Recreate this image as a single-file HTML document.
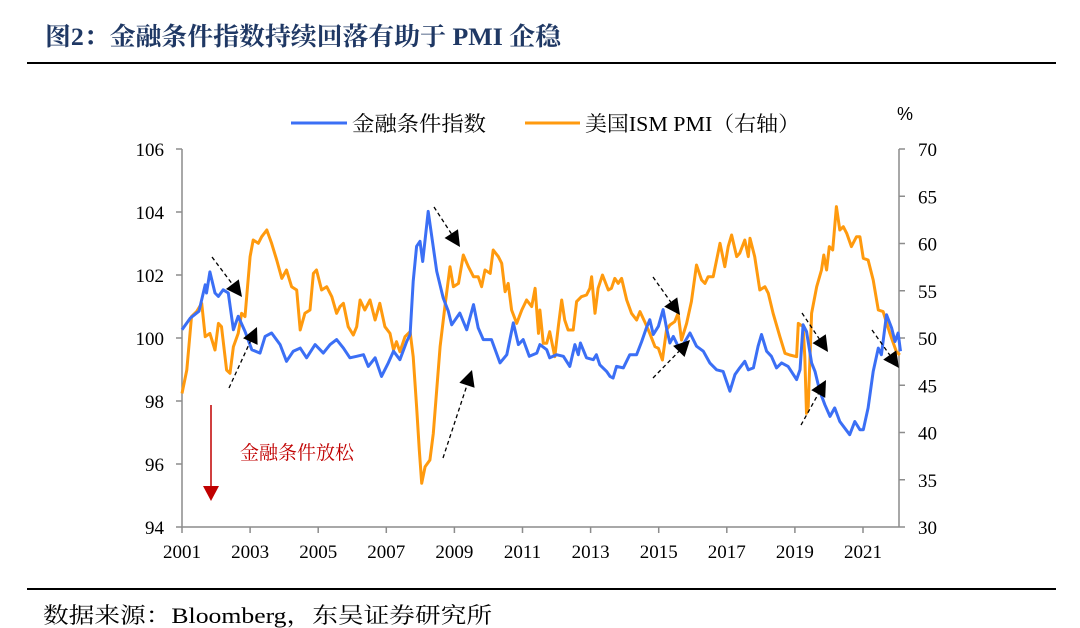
<!DOCTYPE html>
<html><head><meta charset="utf-8">
<style>
html,body{margin:0;padding:0;background:#fff;}
body{width:1080px;height:628px;overflow:hidden;position:relative;font-family:"Liberation Serif","Noto Serif CJK SC",serif;}
svg{position:absolute;left:0;top:0;}
</style></head>
<body>
<svg id="chart" width="1080" height="628" viewBox="0 0 1080 628" xmlns="http://www.w3.org/2000/svg">
<text x="45" y="45" font-size="25" font-weight="bold" fill="#1f3864" textLength="516" lengthAdjust="spacingAndGlyphs" font-family="Liberation Serif, Noto Serif CJK SC, serif">图2：金融条件指数持续回落有助于 PMI 企稳</text>
<line x1="27" y1="63" x2="1056" y2="63" stroke="#000" stroke-width="2"/>
<line x1="291" y1="123" x2="347" y2="123" stroke="#3b6ff5" stroke-width="3"/>
<text x="352" y="131" font-size="21" fill="#000" textLength="134" lengthAdjust="spacingAndGlyphs" font-family="Liberation Serif, Noto Serif CJK SC, serif">金融条件指数</text>
<line x1="525" y1="123" x2="580" y2="123" stroke="#ff9a0e" stroke-width="3"/>
<text x="585" y="131" font-size="21" fill="#000" textLength="215" lengthAdjust="spacingAndGlyphs" font-family="Liberation Serif, Noto Serif CJK SC, serif">美国ISM PMI（右轴）</text>
<text x="897" y="120" font-size="18" fill="#000" font-family="Liberation Sans, sans-serif">%</text>
<g id="axes"></g>
<g id="series"></g>
<g id="annot"></g>
<line x1="211" y1="405" x2="211" y2="488" stroke="#c00000" stroke-width="1.5"/>
<polygon points="203,486 219,486 211,501" fill="#c00000"/>
<text x="240" y="459" font-size="19" fill="#c00000" font-family="Liberation Serif, Noto Serif CJK SC, serif">金融条件放松</text>
<line x1="27" y1="589" x2="1056" y2="589" stroke="#000" stroke-width="2"/>
<text x="43" y="623" font-size="22" fill="#000" textLength="449" lengthAdjust="spacingAndGlyphs" font-family="Liberation Serif, Noto Serif CJK SC, serif">数据来源：Bloomberg，东吴证券研究所</text>
</svg>
<script>
const xTickYears = [2001,2003,2005,2007,2009,2011,2013,2015,2017,2019,2021];
const leftTicks = [94,96,98,100,102,104,106];
const rightTicks = [30,35,40,45,50,55,60,65,70];
const fciDates = [2001.00,2001.24,2001.50,2001.68,2001.72,2001.82,2001.97,2002.07,2002.21,2002.36,2002.51,2002.65,2002.85,2003.05,2003.29,2003.44,2003.63,2003.88,2004.07,2004.27,2004.47,2004.66,2004.91,2005.15,2005.35,2005.54,2005.74,2005.93,2006.13,2006.33,2006.47,2006.67,2006.86,2007.06,2007.21,2007.40,2007.60,2007.70,2007.79,2007.89,2007.99,2008.07,2008.23,2008.48,2008.67,2008.82,2008.92,2009.16,2009.36,2009.56,2009.70,2009.85,2010.09,2010.34,2010.54,2010.73,2010.88,2011.02,2011.20,2011.42,2011.51,2011.71,2011.80,2012.00,2012.20,2012.39,2012.54,2012.64,2012.70,2012.88,2013.08,2013.17,2013.27,2013.47,2013.57,2013.66,2013.76,2013.96,2014.15,2014.35,2014.50,2014.64,2014.74,2014.84,2014.99,2015.13,2015.23,2015.33,2015.43,2015.62,2015.77,2015.92,2016.11,2016.31,2016.50,2016.70,2016.89,2017.09,2017.24,2017.38,2017.53,2017.63,2017.78,2017.92,2018.02,2018.17,2018.31,2018.46,2018.61,2018.80,2019.05,2019.15,2019.24,2019.34,2019.49,2019.59,2019.73,2019.88,2020.03,2020.17,2020.32,2020.61,2020.76,2020.91,2021.01,2021.15,2021.30,2021.45,2021.54,2021.69,2021.84,2021.94,2022.03,2022.10];
const fciValues = [100.26,100.63,100.85,101.69,101.43,102.10,101.43,101.32,101.53,101.43,100.26,100.69,100.21,99.63,99.52,100.05,100.16,99.79,99.26,99.58,99.68,99.37,99.79,99.52,99.79,99.95,99.68,99.37,99.42,99.47,99.10,99.37,98.78,99.21,99.58,99.31,99.89,100.11,101.80,102.91,103.07,102.43,104.02,102.12,101.27,100.85,100.42,100.79,100.26,101.06,100.32,99.95,99.95,99.21,99.47,100.48,99.79,99.95,99.42,99.52,99.79,99.63,99.37,99.47,99.42,99.10,99.79,99.47,99.84,99.37,99.31,99.47,99.15,98.94,98.78,98.73,99.10,99.05,99.47,99.47,99.89,100.32,100.58,100.11,100.37,100.90,100.32,99.84,100.05,99.63,99.89,100.16,99.74,99.58,99.21,98.99,98.94,98.31,98.84,99.05,99.26,98.99,99.05,99.74,100.11,99.58,99.42,99.05,99.21,99.10,98.68,98.99,100.42,100.21,99.21,98.94,98.31,97.88,97.51,97.78,97.35,96.93,97.35,97.09,97.09,97.78,98.94,99.68,99.47,100.74,100.32,99.89,100.16,99.58];
const pmiDates = [2001.00,2001.14,2001.28,2001.43,2001.58,2001.68,2001.82,2001.97,2002.07,2002.16,2002.31,2002.41,2002.51,2002.65,2002.75,2002.85,2003.00,2003.09,2003.24,2003.34,2003.49,2003.63,2003.78,2003.93,2004.07,2004.22,2004.37,2004.47,2004.61,2004.76,2004.86,2004.95,2005.10,2005.25,2005.40,2005.54,2005.64,2005.74,2005.88,2006.03,2006.13,2006.23,2006.37,2006.52,2006.67,2006.81,2006.96,2007.11,2007.21,2007.30,2007.40,2007.55,2007.70,2007.79,2007.89,2007.97,2008.04,2008.14,2008.28,2008.38,2008.48,2008.58,2008.72,2008.87,2008.97,2009.12,2009.26,2009.41,2009.56,2009.70,2009.80,2009.90,2010.05,2010.14,2010.29,2010.39,2010.49,2010.58,2010.68,2010.83,2010.98,2011.12,2011.27,2011.37,2011.47,2011.51,2011.61,2011.71,2011.80,2011.95,2012.05,2012.15,2012.24,2012.34,2012.49,2012.59,2012.73,2012.88,2012.98,2013.03,2013.13,2013.22,2013.35,2013.52,2013.61,2013.71,2013.81,2013.91,2014.06,2014.20,2014.35,2014.45,2014.59,2014.74,2014.89,2014.99,2015.11,2015.23,2015.33,2015.47,2015.57,2015.67,2015.82,2015.96,2016.11,2016.26,2016.36,2016.45,2016.60,2016.80,2016.94,2017.04,2017.14,2017.29,2017.38,2017.53,2017.63,2017.68,2017.82,2017.97,2018.12,2018.22,2018.36,2018.56,2018.71,2018.85,2019.05,2019.10,2019.24,2019.29,2019.34,2019.39,2019.49,2019.64,2019.78,2019.85,2019.93,2020.01,2020.11,2020.22,2020.32,2020.42,2020.52,2020.66,2020.81,2020.91,2021.01,2021.15,2021.30,2021.45,2021.59,2021.79,2021.98,2022.08];
const pmiValues = [44.14,46.61,52.26,52.79,53.67,50.14,50.49,48.73,51.55,51.20,46.61,46.26,49.08,50.49,52.61,52.26,58.61,60.37,60.02,60.72,61.43,60.02,58.25,56.31,57.20,55.43,55.08,50.85,52.61,52.96,56.84,57.20,55.08,55.43,54.37,52.61,53.32,53.67,51.20,50.32,51.20,54.02,52.96,54.02,51.90,53.67,51.20,50.49,48.73,49.61,48.55,50.14,50.67,48.02,42.73,38.15,34.62,36.38,37.09,39.91,44.50,49.08,53.32,57.55,55.43,55.78,58.78,57.55,56.49,56.49,55.43,57.20,56.84,59.31,58.61,57.90,54.90,55.78,52.96,51.55,52.96,54.02,53.32,55.26,50.49,52.96,49.44,49.44,50.67,48.02,51.20,54.02,51.90,50.85,50.85,53.85,54.37,54.55,55.26,56.49,52.61,55.26,56.67,55.08,55.26,56.31,55.78,56.31,54.02,52.61,51.90,52.79,51.73,50.49,49.08,48.91,47.67,50.85,51.38,51.73,52.61,49.79,51.55,53.85,57.72,56.14,55.78,56.49,56.49,60.02,57.55,59.67,60.90,58.61,58.96,60.37,58.61,60.55,58.61,55.08,55.43,54.73,52.61,50.14,48.38,48.20,48.02,51.55,51.20,48.02,42.03,42.73,52.61,55.43,57.20,58.78,57.20,59.67,59.31,63.90,61.43,61.78,61.08,59.67,60.72,60.72,58.43,58.25,56.14,52.96,52.79,50.49,48.55,48.20];

const NS='http://www.w3.org/2000/svg';
const X0=182, PX_PER_YEAR=34.05, YTOP=149, YBOT=527, XR=899;
function xOf(t){return X0+(t-2001)*PX_PER_YEAR;}
function yL(v){return YBOT-(v-94)/(106-94)*(YBOT-YTOP);}
function yR(v){return YBOT-(v-30)/(70-30)*(YBOT-YTOP);}
function mk(tag,attrs,parent){const e=document.createElementNS(NS,tag);for(const k in attrs)e.setAttribute(k,attrs[k]);parent.appendChild(e);return e;}
const axes=document.getElementById('axes');
const ac='#8c8c8c';
let el;
el=mk('line',{x1:X0,y1:YTOP,x2:X0,y2:YBOT,stroke:ac,'stroke-width':1.5},axes);


el=mk('line',{x1:XR,y1:YTOP,x2:XR,y2:YBOT,stroke:ac,'stroke-width':1.5},axes);


el=mk('line',{x1:X0,y1:YBOT,x2:XR,y2:YBOT,stroke:ac,'stroke-width':1.5},axes);


leftTicks.forEach(v=>{
  const y=yL(v);
  const t=mk('line',{x1:X0-6,y1:y,x2:X0,y2:y,stroke:ac,'stroke-width':1.5},axes);
  
  
  const l=mk('text',{x:164,y:y+7,'text-anchor':'end','font-size':19,fill:'#000'},axes);
  l.textContent=v;
  
  
});
rightTicks.forEach(v=>{
  const y=yR(v);
  const t=mk('line',{x1:XR,y1:y,x2:XR+6,y2:y,stroke:ac,'stroke-width':1.5},axes);
  
  
  const l=mk('text',{x:918,y:y+7,'font-size':19,fill:'#000'},axes);
  l.textContent=v;
  
  
});
xTickYears.forEach(v=>{
  const x=xOf(v);
  const t=mk('line',{x1:x,y1:YBOT,x2:x,y2:YBOT+6,stroke:ac,'stroke-width':1.5},axes);
  
  
  const l=mk('text',{x:x,y:YBOT+31,'text-anchor':'middle','font-size':19,fill:'#000'},axes);
  l.textContent=v;
  
  
});
const series=document.getElementById('series');
function path(ds,vs,yf){return ds.map((d,i)=>(i?'L':'M')+xOf(d).toFixed(1)+','+yf(vs[i]).toFixed(1)).join(' ');}
el=mk('path',{d:path(pmiDates,pmiValues,yR),fill:'none',stroke:'#ff9a0e','stroke-width':3,'stroke-linejoin':'round'},series);


el=mk('path',{d:path(fciDates,fciValues,yL),fill:'none',stroke:'#3b6ff5','stroke-width':3,'stroke-linejoin':'round'},series);


const arrows=[[212,257,242,297],[229,388,257,327],[434,207,460,247],[443,458,472,370],[653,277,680,315],[653,378,690,340],[802,313,828,352],[801,425,826,380],[872,330,899,368]];
const annot=document.getElementById('annot');
arrows.forEach(a=>{
  const [x1,y1,x2,y2]=a;
  const dx=x2-x1, dy=y2-y1, L=Math.hypot(dx,dy), ux=dx/L, uy=dy/L;
  const bx=x2-ux*16, by=y2-uy*16;
  const g=mk('g',{},annot);
  
  
  mk('line',{x1:x1,y1:y1,x2:bx,y2:by,stroke:'#000','stroke-width':1.3,'stroke-dasharray':'4,3'},g);
  mk('polygon',{points:`${x2},${y2} ${bx-uy*8},${by+ux*8} ${bx+uy*8},${by-ux*8}`,fill:'#000'},g);
});
</script>
</body></html>
